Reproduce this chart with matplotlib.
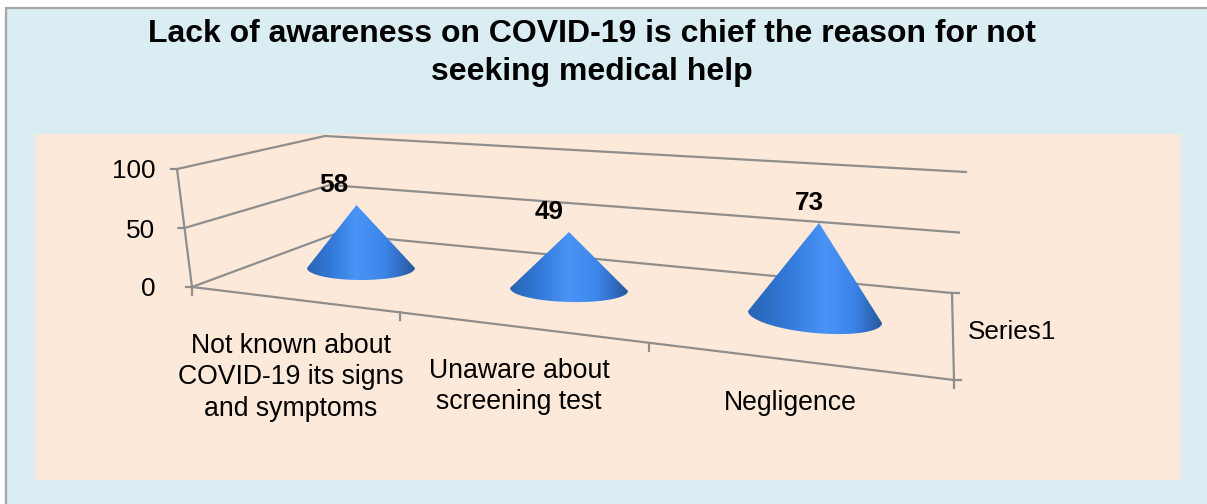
#!/usr/bin/env python
# -*- coding: utf-8 -*-
import numpy as np
from matplotlib import pyplot as plt
from matplotlib.colors import LinearSegmentedColormap
from matplotlib.patches import Polygon, Rectangle

#---------------------------------- DATA ----------------------------------
categories = ["Not known about\nCOVID-19 its signs\nand symptoms",
              "Unaware about\nscreening test",
              "Negligence"]
values = [58, 49, 73]
value_ticks = [0, 50, 100]
series_name = "Series1"
title = "Lack of awareness on COVID-19 is chief the reason for not\nseeking medical help"

#--------------------------------- LAYOUT ---------------------------------
W, H = 1207, 504
BG, PLOT, GRID = "#daedf3", "#fde9d9", "#8e8e8e"
FS = 18.8
LW = 1.6

# wall corners in pixels at value 0 and at value 100
LEFT = ((192, 287), (177, 169))
BACK = ((335, 234), (325, 136))
RIGHT = ((952, 293), (966, 172))
FRONT_END = (954, 380)

base_x = [361, 569, 815]
base_y = [268, 289.5, 317]
half_w = [54, 59, 67]
radius_y = [12, 12.5, 16]
tilt = [0, 1.5, 6]
lean = [-4.5, 0, 4]
scale_y = [1.086, 1.173, 1.288]
glow = [0.45, 0.5, 0.58]
label_dx = [-23, -20, -10]
floor_ticks = [(400, 312), (649, 343), FRONT_END]
cat_x = [291, 519, 790]
cat_y = [377.5, 386.5, 403.5]


def wall(corner, v):
    return (corner[0][0] + (corner[1][0] - corner[0][0]) * v / 100.0,
            corner[0][1] + (corner[1][1] - corner[0][1]) * v / 100.0)


def cone_map(peak):
    return LinearSegmentedColormap.from_list("cone", [
        (0.0, "#2a65b4"), (peak * 0.5, "#3279d8"), (peak, "#4a94f8"),
        (peak + (1 - peak) * 0.5, "#3c84e8"), (peak + (1 - peak) * 0.8, "#3069bd"),
        (1.0, "#285a98")])


def draw_cone(ax, i):
    cx, cy = base_x[i], base_y[i]
    a = half_w[i]
    apex = (cx + lean[i], cy - values[i] * scale_y[i])
    t = np.linspace(np.pi, 0, 60)
    ex = cx + a * np.cos(t)
    ey = cy + radius_y[i] * np.sin(t) + tilt[i] * np.cos(t)
    pts = np.vstack([[apex], np.column_stack([ex, ey])])
    poly = Polygon(pts, closed=True, fc="none", ec="none", transform=ax.transData)
    ax.add_patch(poly)
    grad = np.linspace(0, 1, 256).reshape(1, -1)
    im = ax.imshow(grad, cmap=cone_map(glow[i]), aspect="auto", zorder=3,
                   extent=(cx - a, cx + a, H, 0), interpolation="bilinear")
    im.set_clip_path(poly)
    ax.text(apex[0] + label_dx[i], apex[1] - 20, str(values[i]), fontsize=FS,
            fontweight="bold", ha="center", va="center", zorder=5)


def main():
    plt.rcParams["font.family"] = ["Liberation Sans", "DejaVu Sans"]
    fig = plt.figure(figsize=(W / 100.0, H / 100.0), dpi=100, facecolor="white")
    ax = fig.add_axes([0, 0, 1, 1])
    ax.axis("off")

    ax.add_patch(Rectangle((6, 8), W, H, fc=BG, ec="#a6a6a6", lw=1.6, zorder=0))
    ax.add_patch(Rectangle((35, 134), 1146, 346, fc=PLOT, ec="none", zorder=1))

    # walls and gridlines
    for v in value_ticks:
        l, b, r = wall(LEFT, v), wall(BACK, v), wall(RIGHT, v)
        ax.plot([l[0] - 6, l[0], b[0], r[0]], [l[1], l[1], b[1], r[1]], color=GRID, lw=LW, zorder=2)
        ax.text(155, l[1] + 2.5, str(v), fontsize=FS, ha="right", va="center", zorder=5)
    ax.plot(*zip(wall(LEFT, 0), wall(LEFT, 100)), color=GRID, lw=LW, zorder=2)

    # floor
    ax.plot(*zip(LEFT[0], FRONT_END), color=GRID, lw=LW, zorder=2)
    ax.plot(*zip(RIGHT[0], FRONT_END), color=GRID, lw=LW, zorder=2)
    ax.plot([RIGHT[0][0], RIGHT[0][0] + 7], [RIGHT[0][1]] * 2, color=GRID, lw=LW, zorder=2)
    ax.plot([FRONT_END[0], FRONT_END[0] + 7], [FRONT_END[1]] * 2, color=GRID, lw=LW, zorder=2)
    ax.plot([LEFT[0][0]] * 2, [LEFT[0][1], LEFT[0][1] + 8], color=GRID, lw=LW, zorder=2)
    for x, y in floor_ticks:
        ax.plot([x, x], [y, y + 8], color=GRID, lw=LW, zorder=2)

    for i in range(len(values)):
        draw_cone(ax, i)

    for i, c in enumerate(categories):
        ax.text(cat_x[i], cat_y[i], c, fontsize=19.2, ha="center", va="center",
                linespacing=1.27, zorder=5)
    ax.text(968, 332, series_name, fontsize=FS, ha="left", va="center", zorder=5)
    ax.text(592, 53, title, fontsize=23.05, fontweight="bold", ha="center", va="center",
            linespacing=1.33, zorder=5)

    ax.set_xlim(0, W)
    ax.set_ylim(H, 0)
    fig.savefig("out.png", dpi=100, facecolor="white")


if __name__ == '__main__':
    main()
